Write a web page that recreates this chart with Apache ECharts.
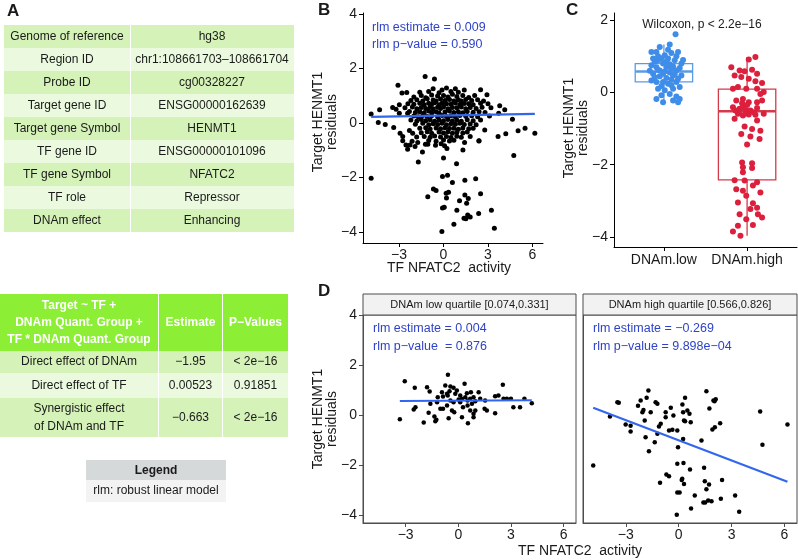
<!DOCTYPE html>
<html><head><meta charset="utf-8">
<script src="https://cdn.jsdelivr.net/npm/echarts@6/dist/echarts.min.js"></script>
<style>html,body{margin:0;padding:0;background:#fff}#c{width:798px;height:560px}</style>
</head><body><div id="c"></div>
<script>
// ---------- Table data ----------
const infoRows = [
  ["Genome of reference", "hg38"],
  ["Region ID", "chr1:108661703\u2013108661704"],
  ["Probe ID", "cg00328227"],
  ["Target gene ID", "ENSG00000162639"],
  ["Target gene Symbol", "HENMT1"],
  ["TF gene ID", "ENSG00000101096"],
  ["TF gene Symbol", "NFATC2"],
  ["TF role", "Repressor"],
  ["DNAm effect", "Enhancing"]
];
const modelHeader = ["Target ~ TF +\nDNAm Quant. Group +\nTF * DNAm Quant. Group", "Estimate", "P\u2212Values"];
const modelRows = [
  ["Direct effect of DNAm", "\u22121.95", "< 2e\u221216"],
  ["Direct effect of TF", "0.00523", "0.91851"],
  ["Synergistic effect\nof DNAm and TF", "\u22120.663", "< 2e\u221216"]
];
const legendRows = ["Legend", "rlm: robust linear model"];

// ---------- Panel B ----------
const bPoints = [
  [-1.24,1.70],[-0.61,1.61],[-3.07,1.38],[-4.88,0.32],[-4.31,0.48],[-4.4,0.01],[-3.93,-0.06],[-3.36,-0.17],
  [-2.8,1.09],[-2.48,1.11],[-2.98,0.66],[-3.2,0.5],[-3.43,0.56],[2.5,1.21],[2.93,1.03],[3.79,0.63],[4.13,0.48],
  [4.65,0.13],[3.72,0.35],[5.03,-0.29],[5.5,-0.2],[6.16,-0.38],[3.68,-0.5],[4.2,-0.4],[2.78,-0.26],[2.39,-0.66],
  [-2.93,-0.38],[-2.75,-0.5],[-2.3,-0.28],[-2.12,-0.68],[-2.53,-0.81],[-1.81,-0.52],[-2.08,-0.38],[-2.42,0.35],[-2.98,0.35],
  [-2.75,-0.66],[-2.26,-0.81],[-2.42,-0.97],[-1.92,-0.87],[-1.74,-0.72],[-1.42,-1.07],[-1.22,-0.79],[-1.06,-0.79],
  [-0.54,-0.82],[-0.16,-0.77],[0.07,-0.84],[0.23,-0.94],[1.42,-0.72],[1.31,-1.0],[2.39,-0.67],
  [4.74,-1.2],[0.0,-1.29],[-1.7,-1.44],[0.88,-1.5],[-4.88,-2.03],[-0.07,-1.97],[0.27,-1.92],[1.44,-2.11],[2.17,-2.05],
  [0.6,-2.19],[-0.68,-2.43],[-0.5,-2.48],[-1.06,-2.71],[0.18,-2.58],[0.34,-2.55],[0.2,-2.76],[1.44,-2.65],[1.67,-2.78],
  [2.5,-2.6],[1.08,-2.86],[1.56,-2.95],[-0.07,-3.13],[0.05,-3.1],[0.9,-3.21],[3.23,-3.21],[2.37,-3.33],[1.63,-3.38],
  [1.8,-3.46],[1.38,-3.5],[1.51,-3.52],[0.7,-3.72],[3.43,-3.87],[-0.11,-3.99],
  [-1.6,1.12],[-1.0,1.15],[-0.7,1.25],[-0.3,1.1],[0.2,1.28],[0.5,1.15],[1.0,1.12],[1.4,1.2],[-0.1,1.2],[0.8,1.25],
  [-2.0,0.95],[-1.5,1.0],[-1.2,0.92],[-0.8,1.02],[-0.4,0.98],[0.0,1.0],[0.3,0.95],[0.6,1.05],[0.9,0.97],[1.3,1.0],[1.7,0.93],[2.1,1.0],
  [-2.2,0.82],[-1.8,0.85],[-1.4,0.8],[-1.1,0.88],[-0.7,0.84],[-0.5,0.8],[-0.2,0.87],[0.1,0.82],[0.4,0.86],[0.7,0.8],[1.0,0.85],[1.2,0.8],[1.5,0.86],[1.9,0.82],[2.3,0.85],[2.7,0.8],
  [-2.4,0.7],[-2.0,0.68],[-1.6,0.72],[-1.3,0.66],[-1.0,0.72],[-0.8,0.68],[-0.6,0.74],[-0.3,0.66],[-0.1,0.72],[0.2,0.7],[0.5,0.68],[0.8,0.73],[1.1,0.67],[1.4,0.71],[1.7,0.7],[2.0,0.66],[2.5,0.72],[3.0,0.7],
  [-2.6,0.55],[-2.1,0.58],[-1.8,0.52],[-1.5,0.56],[-1.2,0.53],[-0.9,0.58],[-0.7,0.52],[-0.4,0.57],[-0.2,0.53],[0.0,0.58],[0.3,0.52],[0.6,0.56],[0.9,0.55],[1.2,0.58],[1.5,0.52],[1.8,0.56],[2.2,0.53],[2.6,0.57],[3.2,0.55],
  [-2.3,0.42],[-1.9,0.38],[-1.6,0.41],[-1.3,0.37],[-1.0,0.43],[-0.8,0.38],[-0.5,0.41],[-0.3,0.36],[0.1,0.4],[0.4,0.43],[0.7,0.38],[1.0,0.41],[1.3,0.37],[1.6,0.42],[2.0,0.39],[2.4,0.41],[2.8,0.38],
  [-2.0,0.25],[-1.7,0.22],[-1.4,0.27],[-1.1,0.23],[-0.8,0.26],[-0.4,0.22],[-0.1,0.27],[0.2,0.23],[0.5,0.26],[0.8,0.22],[1.1,0.27],[1.5,0.24],[1.9,0.26],[2.3,0.22],[3.1,0.25],
  [-2.2,0.1],[-1.8,0.07],[-1.5,0.12],[-1.2,0.08],[-0.9,0.11],[-0.6,0.06],[-0.3,0.1],[0.0,0.08],[0.3,0.12],[0.6,0.07],[0.9,0.1],[1.2,0.06],[1.6,0.11],[2.0,0.08],[2.5,0.1],
  [-1.9,-0.05],[-1.4,-0.02],[-1.0,-0.07],[-0.7,-0.03],[-0.4,-0.06],[-0.1,-0.02],[0.2,-0.07],[0.5,-0.03],[0.8,-0.05],[1.1,-0.02],[1.4,-0.06],[1.8,-0.04],[2.2,-0.07],
  [-1.6,-0.2],[-1.2,-0.18],[-0.9,-0.23],[-0.5,-0.19],[-0.2,-0.22],[0.1,-0.18],[0.4,-0.21],[0.7,-0.2],[1.0,-0.24],[1.3,-0.19],[1.7,-0.22],[2.0,-0.2],
  [-1.5,-0.36],[-1.1,-0.33],[-0.8,-0.38],[-0.3,-0.34],[0.0,-0.37],[0.3,-0.33],[0.6,-0.38],[0.9,-0.35],[1.3,-0.37],[1.6,-0.34],
  [-1.3,-0.5],[-0.9,-0.53],[-0.6,-0.48],[-0.2,-0.52],[0.2,-0.5],[0.5,-0.54],[0.9,-0.49],[1.2,-0.53],[1.8,-0.5],
  [-1.0,-0.65],[-0.5,-0.68],[0.0,-0.63],[0.4,-0.67],[0.7,-0.64]
];
const bFit = [[-4.88, 0.22], [6.16, 0.33]];
const bStats = ["rlm estimate = 0.009", "rlm p\u2212value = 0.590"];

// ---------- Panel C ----------
const cCategories = ["DNAm.low", "DNAm.high"];
// [position, lower whisker, Q1, median, Q3, upper whisker]
const cBoxes = [[1, -0.27, 0.29, 0.58, 0.80, 1.33], [2, -3.97, -2.42, -0.52, 0.09, 0.98]];
const cLowPoints = [
  [1.14,1.61],[1.07,1.33],[0.95,1.26],[0.91,1.12],[0.85,1.12],[1.17,1.12],[1.09,1.09],[1.01,1.03],[0.87,0.94],[0.93,0.89],
  [0.99,0.8],[1.05,0.94],[1.13,0.89],[1.21,0.8],[0.85,0.75],[0.91,0.7],[0.95,0.61],[1.03,0.7],[1.09,0.66],[1.15,0.61],
  [0.87,0.52],[0.99,0.52],[1.11,0.47],[1.21,0.47],[0.85,0.33],[0.91,0.29],[0.99,0.29],[1.05,0.24],[1.15,0.29],[1.19,0.15],
  [0.93,0.1],[1.01,0.06],[1.11,0.1],[0.97,-0.08],[1.07,-0.04],[1.15,-0.11],[0.91,-0.18],[0.99,-0.27],[1.11,-0.22],[1.17,-0.27],
  [1.19,-0.18],[0.89,0.85],[0.97,0.95],[1.03,0.85],[1.07,0.78],[1.11,0.72],[1.19,0.68],[0.93,0.62],[1.01,0.58],[1.07,0.55],
  [1.13,0.5],[0.89,0.42],[0.95,0.45],[1.03,0.4],[1.09,0.36],[1.17,0.38],[0.97,0.18],[1.09,0.2],[1.23,0.9],[0.83,0.6],
  [1.05,1.18],[0.93,1.0],[1.15,1.0]
];
const cHighPoints = [
  [2.10,0.98],[2.02,0.91],[1.81,0.70],[1.91,0.61],[1.97,0.59],[2.06,0.63],[2.12,0.52],[1.85,0.47],[1.93,0.43],[2.02,0.38],
  [2.10,0.31],[2.18,0.26],[2.20,0.01],[1.83,0.10],[1.89,0.15],[1.99,0.10],[2.12,0.10],[2.16,-0.04],[1.87,-0.22],[1.95,-0.18],
  [2.02,-0.27],[2.12,-0.27],[2.18,-0.22],[1.83,-0.41],[1.91,-0.45],[1.95,-0.41],[1.99,-0.5],[2.04,-0.5],[2.12,-0.43],[1.89,-0.59],
  [1.95,-0.64],[2.02,-0.61],[2.20,-0.59],[1.85,-0.73],[2.12,-0.78],[1.97,-0.94],[2.06,-1.01],[2.16,-1.06],[1.93,-1.15],[2.04,-1.22],
  [2.15,-1.29],[2.00,-1.44],[1.94,-1.94],[2.06,-1.96],[1.95,-2.07],[2.06,-2.09],[1.95,-2.21],[1.85,-2.43],[1.97,-2.44],[2.12,-2.49],
  [2.07,-2.58],[1.87,-2.68],[1.95,-2.72],[1.99,-2.86],[2.16,-2.77],[1.89,-3.05],[2.07,-3.07],[2.12,-3.19],[2.04,-3.23],[1.91,-3.37],
  [2.13,-3.37],[2.18,-3.46],[1.99,-3.51],[1.89,-3.69],[2.07,-3.67],[1.83,-3.85],[1.92,-3.97],
  [1.9,-0.55],[1.98,-0.58],[2.08,-0.55],[1.86,-0.5],[2.0,-0.35],[2.1,-0.62],[1.94,-0.3]
];
const cStat = "Wilcoxon, p < 2.2e\u221216";

// ---------- Panel D ----------
const dStrips = ["DNAm low quartile [0.074,0.331]", "DNAm high quartile [0.566,0.826]"];
const dLowPoints = [
  [-3.33,-0.17],[-3.05,1.35],[-2.48,1.09],[-1.78,1.11],[-1.63,0.94],[-2.54,0.22],[-2.44,0.31],[-1.97,-0.3],[-1.69,0.09],
  [-1.36,-0.06],[-1.25,-0.19],[-1.31,-0.25],[-0.59,1.61],[-0.74,1.18],[-0.45,1.14],[-0.27,1.09],[-0.08,0.98],[0.36,1.25],
  [-0.93,0.91],[-0.64,0.85],[-0.5,0.95],[-1.17,0.71],[-0.87,0.74],[-0.6,0.78],[-0.17,0.85],[0.11,0.78],[0.49,0.87],[0.72,0.91],
  [1.16,0.91],[0.87,0.71],[0.4,0.71],[0.21,0.65],[0.02,0.62],[0.68,0.65],[-0.45,0.58],[-0.27,0.51],[0.11,0.51],[0.53,0.58],
  [0.97,0.55],[1.25,0.65],[-1.02,0.25],[-0.87,0.25],[-0.36,0.18],[-0.23,0.11],[0.27,0.31],[0.53,0.38],[0.78,0.45],[0.97,0.18],
  [0.68,0.18],[0.87,-0.09],[0.21,-0.09],[-0.55,-0.13],[0.87,0.05],[1.5,0.25],[1.63,0.18],[2.1,0.07],[1.53,0.58],[2.1,0.75],
  [2.29,0.78],[2.54,1.21],[2.58,0.65],[2.77,0.65],[3.0,0.65],[3.14,0.31],[3.52,0.31],[3.77,0.65],[4.19,0.47],[0.55,-0.33],
  [-1.59,0.45],[-1.21,0.51],[-0.64,0.38]
];
const dLowFit = [[-3.33, 0.56], [4.19, 0.59]];
const dLowStats = ["rlm estimate = 0.004", "rlm p\u2212value  = 0.876"];
const dHighPoints = [
  [-4.85,-2.02],[-3.9,-0.06],[-3.48,0.51],[-3.4,0.49],[-3.01,-0.38],[-2.73,-0.43],[-2.73,-0.66],[-2.31,0.37],[-2.16,0.58],
  [-2.06,0.11],[-2.0,0.2],[-1.82,0.69],[-1.72,0.98],[-1.93,-0.22],[-1.88,-0.89],[-1.69,-1.45],[-1.59,0.11],[-1.36,-1.09],
  [-1.31,0.51],[-1.21,0.45],[-1.21,-0.75],[-1.12,-0.46],[-1.02,-0.35],[-0.74,0.11],[-0.74,-0.09],[-0.45,0.29],[-0.55,-0.62],
  [-0.36,-0.59],[-0.3,-0.02],[-0.08,-0.62],[-0.04,-1.29],[0.21,0.42],[0.25,0.11],[0.3,-0.22],[0.25,-0.96],[0.36,-0.25],
  [0.36,0.69],[0.49,0.18],[0.61,0.05],[0.68,-0.29],[-0.08,-1.95],[0.27,-1.92],[0.64,-2.18],[-1.06,-2.71],[-0.7,-2.38],
  [-0.55,-2.45],[0.17,-2.6],[0.3,-2.76],[0.2,-2.55],[-0.08,-3.1],[0.05,-3.1],[-0.11,-3.99],[0.7,-3.74],[0.91,-3.22],
  [1.29,-1.02],[1.44,-2.11],[1.48,-2.65],[1.57,-2.97],[1.72,-2.78],[1.4,-3.5],[1.5,-3.5],[1.67,-3.42],[1.86,-3.45],
  [2.46,-2.6],[2.39,-3.35],[3.2,-3.22],[3.43,-3.87],[1.57,0.95],[1.74,0.26],[1.97,0.58],[2.03,0.55],[2.1,0.63],
  [1.91,-0.58],[2.05,-0.49],[2.35,-0.33],[4.62,0.14],[4.75,-1.19],[6.17,-0.38]
];
const dHighFit = [[-4.85, 0.29], [6.17, -2.67]];
const dHighStats = ["rlm estimate = \u22120.269", "rlm p\u2212value = 9.898e\u221204"];

const xTicks = [-3, 0, 3, 6];
const yTicksB = [-4, -2, 0, 2, 4];
const yTicksC = [-4, -2, 0, 2];
const yTicksD = [-4, -2, 0, 2, 4];
const xTitle = "TF NFATC2  activity";
const yTitle = "Target HENMT1\nresiduals";

// ---------- Styling ----------
const FONT = '"Liberation Sans", Arial, Helvetica, sans-serif';
const DARK_ROW = '#d5f3b8', LIGHT_ROW = '#ebfadf', HEAD = '#8cef35';
const STAT_BLUE = '#2f43c9', FIT_BLUE = '#3366ee';
const minus = v => String(v).replace('-', '\u2212');

const chart = echarts.init(document.getElementById('c'), null, {renderer: 'canvas'});
const G = [];
function txt(x, y, text, o) {
  o = o || {};
  G.push({type: 'text', x: x, y: y, rotation: o.rot || 0, z: 100,
    style: {text: text, fill: o.color || '#1a1a1a', fontSize: o.size || 12, fontFamily: FONT,
      fontWeight: o.bold ? 'bold' : 'normal', textAlign: o.align || 'center', textVerticalAlign: 'middle',
      align: o.align || 'center', verticalAlign: 'middle', lineHeight: o.lh || 15}});
}
function rect(x, y, w, h, fill, stroke, lw) {
  G.push({type: 'rect', shape: {x: x, y: y, width: w, height: h}, z: 50,
    style: {fill: fill, stroke: stroke || null, lineWidth: stroke ? (lw || 1) : 0}});
}

// Panel A table 1
const t1 = {x: 4, y: 25, w1: 126, w2: 164, rh: 23};
infoRows.forEach((r, i) => {
  const y = t1.y + i * t1.rh;
  const f = i % 2 === 0 ? DARK_ROW : LIGHT_ROW;
  rect(t1.x, y, t1.w1, t1.rh, f);
  rect(t1.x + t1.w1 + 1, y, t1.w2 - 1, t1.rh, f);
  txt(t1.x + t1.w1 / 2, y + t1.rh / 2, r[0]);
  txt(t1.x + t1.w1 + t1.w2 / 2, y + t1.rh / 2, r[1]);
});
// Table 2
const t2cols = [[0, 158], [159, 63], [223, 65]];
const t2rows = [[294, 57], [351, 22], [373, 25], [398, 39]];
t2cols.forEach((c, j) => {
  rect(c[0], t2rows[0][0], c[1], t2rows[0][1], HEAD);
  txt(c[0] + c[1] / 2, t2rows[0][0] + t2rows[0][1] / 2, modelHeader[j], {bold: true, color: '#ffffff', lh: 17});
  modelRows.forEach((r, i) => {
    const rr = t2rows[i + 1];
    rect(c[0], rr[0], c[1], rr[1], i % 2 === 0 ? DARK_ROW : LIGHT_ROW);
    txt(c[0] + c[1] / 2, rr[0] + rr[1] / 2, r[j], {lh: 18});
  });
});
// Legend table
rect(86, 460, 140, 20, '#d5d9d9');
rect(86, 480, 140, 22, '#f3f3f3');
txt(156, 470.5, legendRows[0], {bold: true});
txt(156, 491, legendRows[1]);

// Panel letters
txt(7, 11, 'A', {bold: true, size: 17, align: 'left'});
txt(318, 10, 'B', {bold: true, size: 17, align: 'left'});
txt(566, 10, 'C', {bold: true, size: 17, align: 'left'});
txt(318, 291, 'D', {bold: true, size: 17, align: 'left'});

// Axis titles
txt(325, 122, yTitle, {size: 14, rot: Math.PI / 2, lh: 14});
txt(449, 268, xTitle, {size: 14});
txt(576, 128, yTitle, {size: 14, rot: Math.PI / 2, lh: 14});
txt(325, 419, yTitle, {size: 14, rot: Math.PI / 2, lh: 14});
txt(580, 551, xTitle, {size: 14});

// Stats text
txt(372, 28, bStats[0], {align: 'left', color: STAT_BLUE, size: 12.5});
txt(372, 45, bStats[1], {align: 'left', color: STAT_BLUE, size: 12.5});
txt(702, 25, cStat, {size: 12});
txt(373, 329, dLowStats[0], {align: 'left', color: STAT_BLUE, size: 12.5});
txt(373, 347, dLowStats[1], {align: 'left', color: STAT_BLUE, size: 12.5});
txt(593, 329, dHighStats[0], {align: 'left', color: STAT_BLUE, size: 12.5});
txt(593, 347, dHighStats[1], {align: 'left', color: STAT_BLUE, size: 12.5});

// Strips
rect(363, 294, 213, 21, '#f2f2f2', '#4d4d4d');
rect(583, 294, 214, 21, '#f2f2f2', '#4d4d4d');
txt(469.5, 304.5, dStrips[0], {size: 11});
txt(690, 304.5, dStrips[1], {size: 11});

// ---------- Axes ----------
function valAxis(grid, min, max, ticks, opts) {
  opts = opts || {};
  return {
    type: 'value', gridIndex: grid, min: min, max: max, scale: true,
    axisLine: {show: opts.line !== false, onZero: false, lineStyle: {color: opts.lineColor || '#000', width: 1}},
    axisTick: {show: opts.ticks !== false, length: 4, inside: false, customValues: ticks,
      lineStyle: {color: opts.lineColor || '#000', width: 1}},
    axisLabel: {show: opts.labels !== false, customValues: ticks, fontSize: 14, fontFamily: FONT, color: '#1a1a1a',
      margin: opts.margin || 5, formatter: opts.fmt || minus},
    splitLine: {show: false}
  };
}
const boxHalf = 0.345;
const boxColors = ['#5a9be8', '#d33a4c'];
function renderBox(params, api) {
  const x = api.value(0);
  const col = boxColors[params.dataIndex];
  const pMin = api.coord([x, api.value(1)]), pQ1 = api.coord([x, api.value(2)]);
  const pMed = api.coord([x, api.value(3)]), pQ3 = api.coord([x, api.value(4)]);
  const pMax = api.coord([x, api.value(5)]);
  const l = api.coord([x - boxHalf, 0])[0], r = api.coord([x + boxHalf, 0])[0];
  const st = {stroke: col, lineWidth: 1.3, fill: null};
  return {type: 'group', children: [
    {type: 'line', shape: {x1: pMin[0], y1: pMin[1], x2: pQ1[0], y2: pQ1[1]}, style: st},
    {type: 'line', shape: {x1: pQ3[0], y1: pQ3[1], x2: pMax[0], y2: pMax[1]}, style: st},
    {type: 'rect', shape: {x: l, y: pQ3[1], width: r - l, height: pQ1[1] - pQ3[1]}, style: {stroke: col, lineWidth: 1.3, fill: '#fff'}},
    {type: 'line', shape: {x1: l, y1: pMed[1], x2: r, y2: pMed[1]}, style: {stroke: col, lineWidth: 2.4}}
  ]};
}

const option = {
  animation: false,
  backgroundColor: '#fff',
  grid: [
    {left: 363, top: 13, width: 180, height: 230},
    {left: 614, top: 13, width: 183, height: 234},
    {left: 363, top: 315, width: 213, height: 208, show: true, borderColor: '#4d4d4d', borderWidth: 1},
    {left: 583, top: 315, width: 214, height: 208, show: true, borderColor: '#4d4d4d', borderWidth: 1}
  ],
  xAxis: [
    valAxis(0, -5.43, 6.71, xTicks),
    valAxis(1, 0.4, 2.6, [1, 2], {fmt: v => cCategories[Math.round(v) - 1], margin: 6}),
    valAxis(2, -5.43, 6.71, xTicks, {lineColor: '#4d4d4d'}),
    valAxis(3, -5.43, 6.71, xTicks, {lineColor: '#4d4d4d'})
  ],
  yAxis: [
    valAxis(0, -4.41, 4.03, yTicksB, {margin: 6}),
    valAxis(1, -4.28, 2.2, yTicksC, {margin: 6}),
    valAxis(2, -4.32, 4.0, yTicksD, {margin: 6, lineColor: '#4d4d4d'}),
    valAxis(3, -4.32, 4.0, yTicksD, {labels: false, ticks: false, lineColor: '#4d4d4d'})
  ],
  graphic: {elements: G},
  series: [
    {type: 'scatter', xAxisIndex: 0, yAxisIndex: 0, data: bPoints, symbolSize: 5, itemStyle: {color: '#000', opacity: 1}, silent: true},
    {type: 'line', xAxisIndex: 0, yAxisIndex: 0, data: bFit, showSymbol: false, lineStyle: {color: FIT_BLUE, width: 2.2}, silent: true, z: 5},
    {type: 'custom', xAxisIndex: 1, yAxisIndex: 1, data: cBoxes, renderItem: renderBox, encode: {x: 0, y: [1, 2, 3, 4, 5]}, silent: true, z: 1},
    {type: 'scatter', xAxisIndex: 1, yAxisIndex: 1, data: cLowPoints, symbolSize: 6, itemStyle: {color: '#3f8de8', opacity: 1}, silent: true, z: 3},
    {type: 'scatter', xAxisIndex: 1, yAxisIndex: 1, data: cHighPoints, symbolSize: 6, itemStyle: {color: '#dc1f3d', opacity: 1}, silent: true, z: 3},
    {type: 'scatter', xAxisIndex: 2, yAxisIndex: 2, data: dLowPoints, symbolSize: 4.5, itemStyle: {color: '#000', opacity: 1}, silent: true},
    {type: 'line', xAxisIndex: 2, yAxisIndex: 2, data: dLowFit, showSymbol: false, lineStyle: {color: FIT_BLUE, width: 2.2}, silent: true, z: 5},
    {type: 'scatter', xAxisIndex: 3, yAxisIndex: 3, data: dHighPoints, symbolSize: 4.5, itemStyle: {color: '#000', opacity: 1}, silent: true},
    {type: 'line', xAxisIndex: 3, yAxisIndex: 3, data: dHighFit, showSymbol: false, lineStyle: {color: FIT_BLUE, width: 2.2}, silent: true, z: 5}
  ]
};
chart.setOption(option);
</script>
</body></html>
